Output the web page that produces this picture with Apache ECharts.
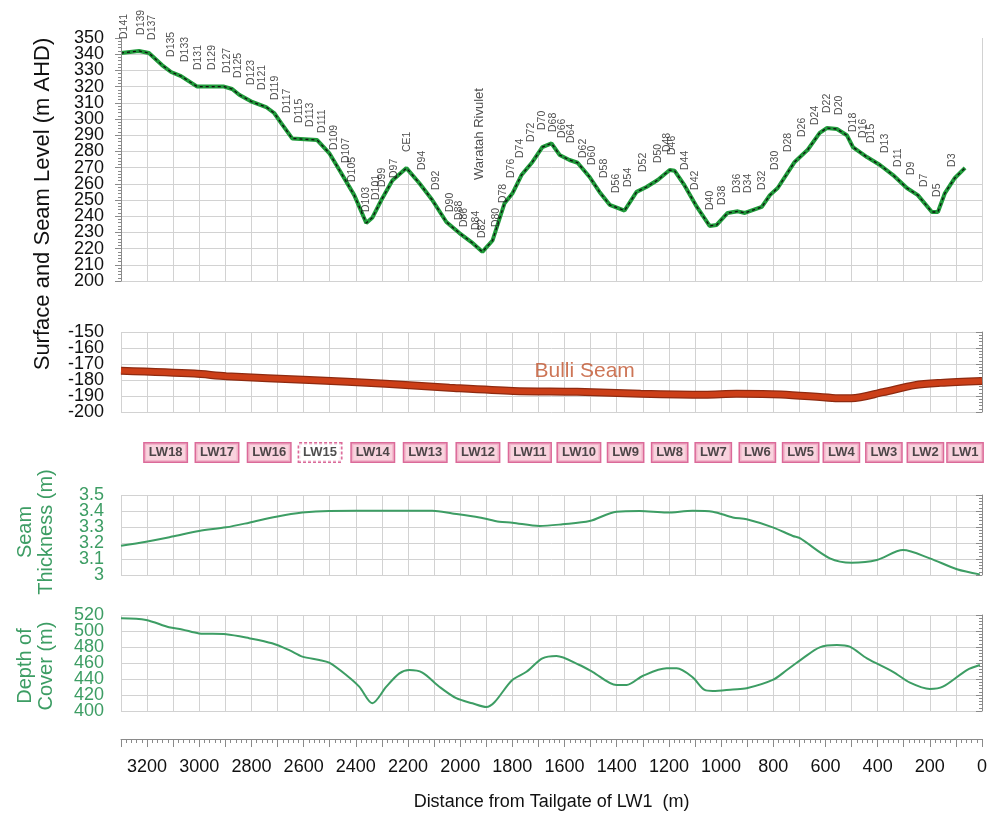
<!DOCTYPE html>
<html><head><meta charset="utf-8">
<script src="https://cdn.jsdelivr.net/npm/echarts@6/dist/echarts.min.js"></script>
<style>html,body{margin:0;padding:0;background:#fff}#c{width:1002px;height:816px}</style>
</head><body><div id="c"></div><script>
// ---------- DATA ----------
const surfaceDist = [3300,3231,3193,3143,3108,3070,3008,2905,2874,2847,2797,2744,2713,2686,2644,2548,2502,2463,2406,2360,2337,2302,2260,2206,2157,2107,2053,2003,1957,1915,1876,1830,1800,1765,1723,1685,1650,1619,1581,1550,1504,1466,1427,1370,1324,1286,1243,1197,1178,1140,1094,1044,1017,975,936,909,844,813,783,718,668,622,595,556,518,495,441,391,341,288,246,192,169,142,104,65];
const surfaceLevel = [340.7,342,340.7,333.3,329,326.5,320,320,318.5,315,310.5,307.4,303.7,297.5,288,287,279,268.5,253,235.8,239,250,262,269.7,260.5,250,236.4,229.6,224,218,225,248,254,265.4,273.5,282.7,285,277.8,274.7,273,264.2,255,247,243.5,255,258,262.3,268.5,268,259,246,234,234.6,242,243,242,245.7,253,257.4,273.5,281,291.4,294.4,293.8,290,282.7,276.5,271.6,265.4,257.4,253,242.6,242.6,254.3,263.6,269.8];

const pegNames = ['D141','D139','D137','D135','D133','D131','D129','D127','D125','D123','D121','D119','D117','D115','D113','D111','D109','D107','D105','D103','D101','D99','D97','CE1','D94','D92','D90','D88','D86','D84','D82','D80','D78','D76','D74','D72','D70','D68','D66','D64','D62','D60','D58','D56','D54','D52','D50','D48','D46','D44','D42','D40','D38','D36','D34','D32','D30','D28','D26','D24','D22','D20','D18','D16','D15','D13','D11','D9','D7','D5','D3'];
const pegDist = [3289,3223,3181,3108,3054,3005,2951,2893,2851,2801,2759,2709,2663,2617,2575,2529,2483,2437,2414,2360,2322,2299,2252,2203,2145,2091,2038,2003,1984,1938,1915,1861,1834,1804,1769,1727,1685,1642,1608,1573,1527,1493,1447,1401,1355,1297,1243,1205,1186,1136,1101,1044,998,940,898,844,794,744,691,641,595,549,495,457,426,372,322,272,223,173,115];
const pegBase = [349.4,351.9,348.8,338.3,335.2,330.2,330.2,328.4,325.3,321,317.9,311.7,303.7,297.5,295.1,291.4,280.9,272.8,261.1,242.6,250,258,263.6,279.6,268.5,256.2,242.6,237.7,233.3,231.5,226.5,233.3,248.1,263.6,275.9,285.8,293.2,292,288.3,285.2,275.9,271.6,263.6,254.3,258,267.3,272.8,279.6,277.8,268.5,256.2,243.8,246.9,254.3,254.3,256.2,268.5,279.6,288.9,296.3,303.7,302.5,292,288.3,285.2,279,270.4,265.4,258,251.9,270.4];

const riverName = ['Waratah Rivulet'];
const riverDist = [1926];
const riverBase = [262.3];

const bulliDist = [3300,3019,2897,2579,2286,2041,1797,1552,1308,1063,941,770,574,501,379,257,159,0];
const bulliLevel = [-174.2,-176,-177.6,-180,-182.4,-184.8,-186.8,-187.4,-188.6,-189.2,-188.6,-189,-191.2,-191.4,-187.6,-183.2,-181.8,-180.6];
const bulliLabel = ['Bulli Seam'];
const bulliLabelDist = [1523];
const bulliLabelLevel = [-174.4];

const panelNames = ['LW18','LW17','LW16','LW15','LW14','LW13','LW12','LW11','LW10','LW9','LW8','LW7','LW6','LW5','LW4','LW3','LW2','LW1'];
const panelDist = [3129,2932,2732,2537,2335,2134,1932,1733,1545,1366,1197,1030,861,695,539,376,217,65];

const thickDist = [3300,3204,3104,3001,2897,2809,2705,2605,2502,2298,2107,2030,1926,1850,1800,1696,1608,1504,1401,1312,1209,1109,1032,955,902,802,725,698,583,499,403,303,200,96,8];
const thickVal = [3.183,3.208,3.24,3.275,3.298,3.327,3.364,3.39,3.4,3.401,3.401,3.385,3.36,3.333,3.327,3.306,3.317,3.337,3.396,3.4,3.39,3.402,3.396,3.36,3.348,3.298,3.244,3.23,3.104,3.077,3.094,3.156,3.104,3.036,3.004];

const coverDist = [3300,3204,3116,3066,3001,2897,2809,2721,2655,2605,2540,2502,2437,2387,2337,2283,2233,2195,2145,2080,2015,1953,1900,1800,1746,1685,1631,1543,1493,1401,1362,1301,1209,1170,1109,1063,1032,955,902,802,748,687,622,556,507,441,341,276,200,150,58,8];
const coverVal = [515.8,513.8,504.6,502,497,496,491,484.6,476,468,463.8,460.4,445,430.4,409.6,430.4,447,451.2,448,430.4,416,409.6,405,438.8,449,465.8,468.8,457.5,449,432.5,432.5,443.8,453.4,453.4,442,426.3,425,427,428.4,438.8,451.2,465.8,479.6,482.5,480.4,465.8,449,435.4,427.5,430.4,451.2,457.5];

const distTicks = [3200,3000,2800,2600,2400,2200,2000,1800,1600,1400,1200,1000,800,600,400,200,0];

// ---------- CHART ----------
const FONT = '"Liberation Sans", Arial, sans-serif';
const GREEN = '#3d9d64';
const GRIDC = '#d2d2d2';
const AXC = '#8a8a8a';
const zip = (a, b) => a.map((v, i) => [v, b[i]]);

const surface = zip(surfaceDist, surfaceLevel);
// mask continues flat past the last surveyed point to the edge of the plot
const mask = surface.concat([[-60, surfaceLevel[surfaceLevel.length - 1]]]);

function xAx(gi, grid) {
  return {
    type: 'value', gridIndex: gi, min: 0, max: 3300, interval: 100, inverse: true,
    axisLine: {show: false}, axisTick: {show: false}, axisLabel: {show: false},
    splitLine: {show: grid, lineStyle: {color: GRIDC, width: 1}}
  };
}
// tick labels are split over two coincident axes (alternate ticks) so the tightly packed labels all show
function parity(min, interval, odd) {
  return v => (Math.round((v - min) / interval) % 2 === (odd ? 1 : 0)) ? String(+v.toFixed(4)) : '';
}
function lbl(color, size, min, interval, odd) {
  return {show: true, fontSize: size, color: color, fontFamily: FONT, margin: 17,
    showMinLabel: true, showMaxLabel: true, formatter: parity(min, interval, odd)};
}
function yMain(gi, min, max, interval, color, size, opts) {
  return Object.assign({
    type: 'value', gridIndex: gi, min: min, max: max, interval: interval, position: 'left',
    axisLine: {show: true, lineStyle: {color: AXC}},
    axisTick: {show: true, length: 6, lineStyle: {color: AXC}},
    minorTick: {show: true, splitNumber: 5, length: 3, lineStyle: {color: AXC}},
    axisLabel: lbl(color, size, min, interval, false),
    splitLine: {show: true, lineStyle: {color: GRIDC, width: 1}},
    minorSplitLine: {show: false}
  }, opts || {});
}
function yOdd(gi, min, max, interval, color, size) {
  return {
    type: 'value', gridIndex: gi, min: min, max: max, interval: interval, position: 'left', z: 10,
    axisLine: {show: false}, axisTick: {show: false}, minorTick: {show: false}, splitLine: {show: false},
    axisLabel: lbl(color, size, min, interval, true)
  };
}

const bottomX = xAx(4, true);
bottomX.offset = 28;
bottomX.axisLine = {show: true, onZero: false, lineStyle: {color: AXC}};
bottomX.axisTick = {show: true, length: 8, lineStyle: {color: AXC}};
bottomX.minorTick = {show: true, splitNumber: 5, length: 4, lineStyle: {color: AXC}};
bottomX.axisLabel = {show: true, fontSize: 18, color: '#111', fontFamily: FONT, margin: 19,
  showMinLabel: true, showMaxLabel: true,
  formatter: v => distTicks.indexOf(v) >= 0 ? String(v) : ''};
bottomX.name = 'Distance from Tailgate of LW1  (m)';
bottomX.nameLocation = 'middle';
bottomX.nameGap = 54;
bottomX.nameTextStyle = {fontSize: 18, color: '#111', fontFamily: FONT};

const option = {
  animation: false,
  backgroundColor: '#fff',
  grid: [
    {left: 121, right: 20, top: 38, height: 243},
    {left: 121, right: 20, top: 332, height: 80},
    {left: 121, right: 20, top: 443, height: 19},
    {left: 121, right: 20, top: 495, height: 80},
    {left: 121, right: 20, top: 615, height: 96}
  ],
  xAxis: [xAx(0, true), xAx(1, true), xAx(2, false), xAx(3, true), bottomX],
  yAxis: [
    // 0: grid lines of the surface panel (drawn under the mask)
    yMain(0, 200, 350, 10, '#111', 18, {axisLine: {show: false}, axisTick: {show: false}, minorTick: {show: false}, axisLabel: {show: false}}),
    // 1,2: surface panel axis line + labels above the mask
    yMain(0, 200, 350, 10, '#111', 18, {z: 10, splitLine: {show: false}}),
    yOdd(0, 200, 350, 10, '#111', 18),
    // 3,4: seam level
    yMain(1, -200, -150, 10, '#111', 18),
    yOdd(1, -200, -150, 10, '#111', 18),
    // 5: panel boxes row
    {type: 'value', gridIndex: 2, min: 0, max: 1, show: false},
    // 6,7: seam thickness
    yMain(3, 3, 3.5, 0.1, GREEN, 18),
    yOdd(3, 3, 3.5, 0.1, GREEN, 18),
    // 8,9: depth of cover
    yMain(4, 400, 520, 20, GREEN, 18),
    yOdd(4, 400, 520, 20, GREEN, 18)
  ],
  graphic: [
    {type: 'text', x: 43, y: 204, rotation: Math.PI / 2,
      style: {text: 'Surface and Seam Level (m AHD)', font: '22px ' + FONT, fill: '#111', textAlign: 'center', textVerticalAlign: 'middle'}},
    {type: 'text', x: 36, y: 532, rotation: Math.PI / 2,
      style: {text: 'Seam\nThickness (m)', font: '20px ' + FONT, fill: GREEN, textAlign: 'center', textVerticalAlign: 'middle', lineHeight: 21}},
    {type: 'text', x: 36, y: 666, rotation: Math.PI / 2,
      style: {text: 'Depth of\nCover (m)', font: '20px ' + FONT, fill: GREEN, textAlign: 'center', textVerticalAlign: 'middle', lineHeight: 21}}
  ],
  series: [
    // white mask hiding the grid above the surface profile
    {type: 'line', xAxisIndex: 0, yAxisIndex: 0, data: mask, symbol: 'none', silent: true, z: 2,
      lineStyle: {width: 0, opacity: 0}, areaStyle: {color: '#ffffff', opacity: 1, origin: 'end'}},
    {type: 'line', xAxisIndex: 0, yAxisIndex: 0, data: surface, symbol: 'none', z: 3,
      lineStyle: {color: '#1f9a3a', width: 4}},
    {type: 'line', xAxisIndex: 0, yAxisIndex: 0, data: surface, symbol: 'none', z: 4,
      lineStyle: {color: '#111', width: 1.3, type: [3, 3]}},
    {type: 'scatter', xAxisIndex: 0, yAxisIndex: 0, clip: false, silent: true, z: 6,
      data: pegNames.map((n, i) => ({name: n, value: [pegDist[i], pegBase[i]]})),
      symbolSize: 0, itemStyle: {color: 'transparent'},
      label: {show: true, formatter: '{b}', position: 'inside', align: 'left', verticalAlign: 'middle', rotate: 90,
        fontSize: 10.5, color: '#222', fontFamily: FONT}},
    {type: 'scatter', xAxisIndex: 0, yAxisIndex: 0, clip: false, silent: true, z: 6,
      data: riverName.map((n, i) => ({name: n, value: [riverDist[i], riverBase[i]]})),
      symbolSize: 0, itemStyle: {color: 'transparent'},
      label: {show: true, formatter: '{b}', position: 'inside', align: 'left', verticalAlign: 'middle', rotate: 90,
        fontSize: 13, color: '#222', fontFamily: FONT}},
    // Bulli seam
    {type: 'line', xAxisIndex: 1, yAxisIndex: 3, data: zip(bulliDist, bulliLevel), symbol: 'none', smooth: 0.3, z: 3,
      lineStyle: {color: '#8e2a10', width: 8}},
    {type: 'line', xAxisIndex: 1, yAxisIndex: 3, data: zip(bulliDist, bulliLevel), symbol: 'none', smooth: 0.3, z: 4,
      lineStyle: {color: '#cc3f18', width: 5.5}},
    {type: 'scatter', xAxisIndex: 1, yAxisIndex: 3, silent: true, z: 6,
      data: bulliLabel.map((n, i) => ({name: n, value: [bulliLabelDist[i], bulliLabelLevel[i]]})),
      symbolSize: 0, itemStyle: {color: 'transparent'},
      label: {show: true, formatter: '{b}', position: 'inside', fontSize: 21, color: '#c0532c', fontFamily: FONT}},
    // longwall panel boxes
    {type: 'scatter', xAxisIndex: 2, yAxisIndex: 5, silent: true, z: 6,
      data: panelNames.map((n, i) => {
        const d = {name: n, value: [panelDist[i], 0.5]};
        if (n === 'LW15') d.label = {backgroundColor: '#ffffff', borderType: [3, 2]};
        return d;
      }),
      symbolSize: 0, itemStyle: {color: 'transparent'},
      label: {show: true, formatter: '{b}', position: 'inside', fontSize: 13, fontWeight: 'bold', color: '#222',
        fontFamily: FONT, backgroundColor: '#f7c8d6', borderColor: '#d2457f', borderWidth: 1.5,
        padding: [3, 4, 2, 4]}},
    // seam thickness
    {type: 'line', xAxisIndex: 3, yAxisIndex: 6, data: zip(thickDist, thickVal), symbol: 'none', smooth: 0.3, z: 3,
      lineStyle: {color: GREEN, width: 2}},
    // depth of cover
    {type: 'line', xAxisIndex: 4, yAxisIndex: 8, data: zip(coverDist, coverVal), symbol: 'none', smooth: 0.3, z: 3,
      lineStyle: {color: GREEN, width: 2}}
  ]
};

const chart = echarts.init(document.getElementById('c'), null, {renderer: 'canvas'});
chart.setOption(option);
</script></body></html>
